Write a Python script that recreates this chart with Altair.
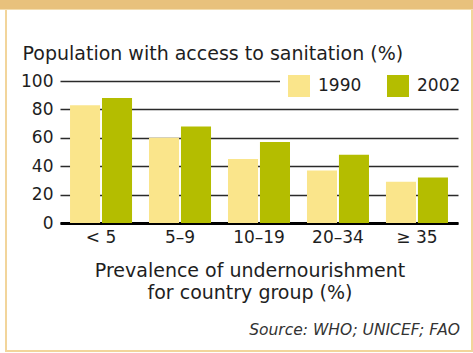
import altair as alt
import pandas as pd

categories = ["< 5", "5–9", "10–19", "20–34", "≥ 35"]
years = ["1990", "2002"]
values_1990 = [83, 60, 45, 37, 29]
values_2002 = [88, 68, 57, 48, 32]
y_ticks = [0, 20, 40, 60, 80, 100]
colors = ["#FAE58B", "#B4BD00"]

rows = []
for c, v1, v2 in zip(categories, values_1990, values_2002):
    rows.append({"group": c, "year": years[0], "value": v1})
    rows.append({"group": c, "year": years[1], "value": v2})
df = pd.DataFrame(rows)

FONT = "DejaVu Sans"
FS = 17
TFS = 19
TXT = "#1e1e1e"
one = pd.DataFrame({"a": [0]})

def deco(x, x2, y, y2, color):
    return alt.Chart(one).mark_rect(color=color).encode(
        x=alt.value(x), x2=alt.value(x2), y=alt.value(y), y2=alt.value(y2)
    )

band = deco(-60, 413, -81, -72, "#E8C17C")
band_line = deco(-60, 413, -72, -71, "#F3DDAF")
left_b = deco(-55, -53, -71, 271, "#F2D59B")
right_b = deco(411, 413, -71, 271, "#F2D59B")
bottom_b = deco(-55, 413, 269, 271, "#F2D59B")

bars = alt.Chart(df).mark_bar().encode(
    x=alt.X(
        "group:N",
        sort=categories,
        scale=alt.Scale(paddingInner=0.215, paddingOuter=0.127),
        axis=alt.Axis(
            title=["Prevalence of undernourishment", "for country group (%)"],
            titleX=189.5,
            titleY=53,
            titleAlign="center",
            titleBaseline="alphabetic",
            titleFontSize=TFS,
            titleFontWeight="normal",
            titleFont=FONT,
            titleColor=TXT,
            titleLineHeight=22,
            labelAngle=0,
            labelFontSize=FS,
            labelFont=FONT,
            labelColor=TXT,
            labelPadding=6,
            ticks=False,
            domainColor="#000000",
            domainWidth=3,
        ),
    ),
    xOffset=alt.XOffset("year:N", scale=alt.Scale(paddingInner=0.06)),
    y=alt.Y(
        "value:Q",
        scale=alt.Scale(domain=[0, 100], nice=False),
        axis=alt.Axis(
            values=y_ticks,
            title="Population with access to sanitation (%)",
            titleAngle=0,
            titleX=-38,
            titleY=-22,
            titleAlign="left",
            titleBaseline="alphabetic",
            titleFontSize=TFS,
            titleFontWeight="normal",
            titleFont=FONT,
            titleColor=TXT,
            labelFontSize=FS,
            labelFont=FONT,
            labelColor=TXT,
            labelPadding=7,
            ticks=False,
            domain=False,
            grid=True,
            gridColor="#2a2a2a",
            gridWidth=1.4,
        ),
    ),
    color=alt.Color(
        "year:N",
        scale=alt.Scale(domain=years, range=colors),
        legend=alt.Legend(
            orient="none",
            legendX=220,
            legendY=-14,
            direction="horizontal",
            title=None,
            symbolType="square",
            symbolSize=484,
            symbolStrokeWidth=0,
            symbolOpacity=1,
            labelFontSize=FS,
            labelFont=FONT,
            labelColor=TXT,
            labelOffset=8,
            columnPadding=25,
            padding=8,
            fillColor="white",
        ),
    ),
)

source = alt.Chart(one).mark_text(
    text="Source: WHO; UNICEF; FAO",
    align="right",
    baseline="alphabetic",
    font="DejaVu Sans",
    fontStyle="italic",
    fontSize=15.5,
    color="#333333",
).encode(x=alt.value(400), y=alt.value(254))

chart = alt.layer(band, band_line, left_b, right_b, bottom_b, bars, source).properties(
    width=398,
    height=142,
    autosize=alt.AutoSizeParams(type="none"),
    padding={"left": 60, "top": 81, "right": 15, "bottom": 130},
    background="white",
).configure_view(stroke=None)

chart.save("out.html", embed_options={"renderer": "svg", "actions": False})
